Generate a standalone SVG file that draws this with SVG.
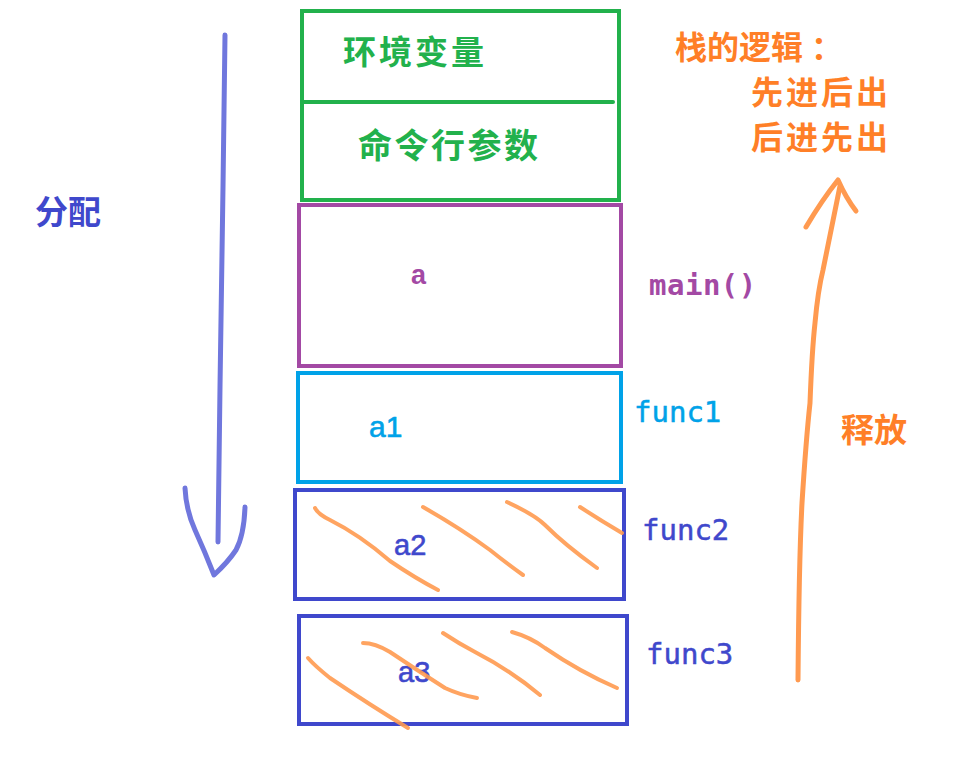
<svg xmlns="http://www.w3.org/2000/svg" width="973" height="761" viewBox="0 0 973 761">
<style>
.box{fill:none;stroke-width:4}
.cjk{font-family:"Noto Sans CJK SC","Noto Sans",sans-serif;font-weight:bold}
.mono{font-family:"DejaVu Sans Mono","Liberation Mono",monospace}
.lat{font-family:"Liberation Sans","Arial",sans-serif}
.hatch{fill:none;stroke:#ff9a50;stroke-width:4;stroke-linecap:round;stroke-linejoin:round;opacity:0.9}
.sk{fill:none;stroke-linecap:round;stroke-linejoin:round}
</style>
<rect width="973" height="761" fill="#ffffff"/>
<g id="env-cmd">
<rect class="box" x="302" y="11" width="317" height="189" stroke="#22b14c"/>
<line x1="302" y1="102" x2="613" y2="102" stroke="#22b14c" stroke-width="4" stroke-linecap="round"/>
<text class="cjk" x="343" y="64" font-size="33" letter-spacing="3" fill="#22b14c">环境变量</text>
<text class="cjk" x="358" y="158" font-size="34" letter-spacing="2.5" fill="#22b14c">命令行参数</text>
</g>
<g id="main">
<rect class="box" x="299" y="205" width="322" height="161" stroke="#a349a4"/>
<text class="lat" x="411" y="284" font-size="27" font-weight="bold" fill="#a349a4">a</text>
<text class="mono" x="649" y="295" font-size="29" font-weight="bold" fill="#a349a4" letter-spacing="0.5">main()</text>
</g>
<g id="func1">
<rect class="box" x="298" y="373" width="323" height="109" stroke="#00a2e8"/>
<text class="lat" x="369" y="437" font-size="30" fill="#00a2e8" stroke="#00a2e8" stroke-width="0.6">a1</text>
<text class="mono" x="634" y="422" font-size="29" fill="#00a2e8" stroke="#00a2e8" stroke-width="0.5">func1</text>
</g>
<g id="func2">
<rect class="box" x="295" y="490" width="329" height="109" stroke="#3f48cc"/>
<text class="lat" x="394" y="555" font-size="29" fill="#3f48cc" stroke="#3f48cc" stroke-width="0.6">a2</text>
<text class="mono" x="642" y="540" font-size="29" fill="#3f48cc" stroke="#3f48cc" stroke-width="0.5">func2</text>
<path class="hatch" d="M315,508 Q318,514 330,520 Q360,535 390,561 Q415,578 438,590"/>
<path class="hatch" d="M423,507 Q460,528 490,550 Q510,566 523,575"/>
<path class="hatch" d="M507,502 Q535,515 545,525 Q565,545 597,568"/>
<path class="hatch" d="M580,507 Q600,520 622,533"/>
</g>
<g id="func3">
<rect class="box" x="299" y="616" width="328" height="108" stroke="#3f48cc"/>
<text class="lat" x="398" y="682" font-size="29" fill="#3f48cc" stroke="#3f48cc" stroke-width="0.6">a3</text>
<text class="mono" x="646" y="664" font-size="29" fill="#3f48cc" stroke="#3f48cc" stroke-width="0.5">func3</text>
<path class="hatch" d="M308,658 Q315,666 330,678 Q370,705 408,728"/>
<path class="hatch" d="M363,643 Q375,643 390,652 Q420,672 445,688 Q460,695 477,698"/>
<path class="hatch" d="M443,633 Q458,643 475,652 Q510,670 540,695"/>
<path class="hatch" d="M512,632 Q530,637 545,648 Q580,672 617,688"/>
</g>
<g id="labels">
<text class="cjk" x="35" y="224" font-size="33" fill="#3f48cc">分配</text>
<text class="cjk" x="675" y="59" font-size="32" fill="#ff7f27">栈的逻辑<tspan dx="8">：</tspan></text>
<text class="cjk" x="751" y="104" font-size="32" letter-spacing="3" fill="#ff7f27">先进后出</text>
<text class="cjk" x="751" y="149" font-size="32" letter-spacing="3" fill="#ff7f27">后进先出</text>
<text class="cjk" x="841" y="442" font-size="33" fill="#ff7f27">释放</text>
</g>
<g id="connectors">
<path class="sk" d="M225,35 L223,187 L220,387 L218,542" stroke="#7077dd" stroke-width="5"/>
<path class="sk" d="M185,488 Q186,510 195,530 Q205,552 214,575 Q228,562 236,550 Q244,535 245,507" stroke="#7077dd" stroke-width="5"/>
<path class="sk" d="M798,680 Q799,560 802,503 Q806,440 810,403 Q812,350 815,323 Q818,290 823,270 Q832,225 840,186" stroke="#ff9a50" stroke-width="5"/>
<path class="sk" d="M806,227 Q822,200 838,180 Q846,198 856,211" stroke="#ff9a50" stroke-width="5"/>
</g>
</svg>
